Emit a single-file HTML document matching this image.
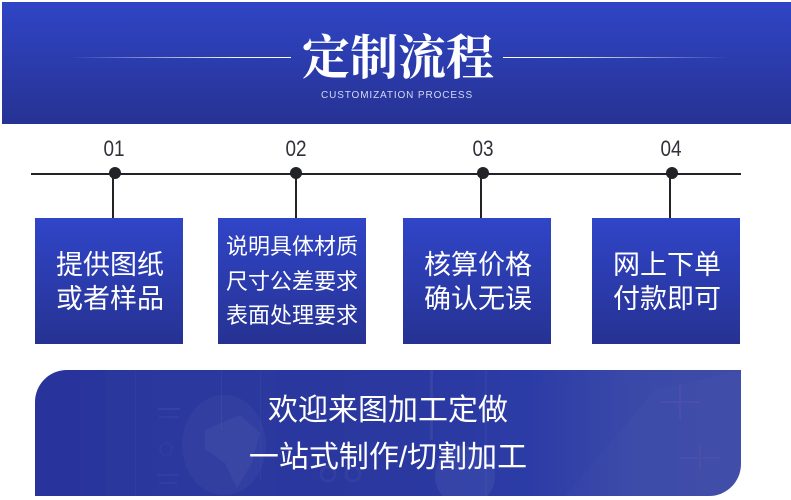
<!DOCTYPE html>
<html><head><meta charset="utf-8">
<style>
html,body{margin:0;padding:0;background:#fff}
#p{position:relative;width:791px;height:500px;overflow:hidden;background:#fff;font-family:"Liberation Sans","Noto Sans CJK SC",sans-serif}
#p div{position:absolute;box-sizing:border-box}
.hdr{left:2px;top:2px;width:789px;height:122px;background:linear-gradient(#3045c6,#263293)}
.ttl{left:290px;width:216px;top:24px;height:60px;text-align:center;font:700 48px/60px "Noto Serif CJK SC","Liberation Serif",serif;color:#fff;white-space:nowrap}
.sub{left:295px;width:204px;top:89px;height:14px;text-align:center;font-size:10px;line-height:14px;color:#d5d9f0;letter-spacing:.88px;white-space:nowrap}
.ln1{left:70px;top:57px;width:221px;height:1px;background:linear-gradient(90deg,rgba(255,255,255,0),rgba(255,255,255,.95) 75%,#fff)}
.ln2{left:503px;top:57px;width:227px;height:1px;background:linear-gradient(270deg,rgba(255,255,255,0),rgba(255,255,255,.95) 75%,#fff)}
.n{top:136px;height:26px;width:40px;text-align:center;font-size:22px;line-height:26px;color:#30313a;font-family:"Liberation Sans",sans-serif;transform:scaleX(.86)}
.h{left:31px;top:173px;width:710px;height:2px;background:#222326}
.d{width:12px;height:12px;border-radius:50%;background:#222326;top:167px}
.v{width:2px;top:174px;height:44px;background:#222326}
.b{top:218px;width:148px;height:126px;background:linear-gradient(#3045c8,#263292);color:#fff;text-align:center;white-space:nowrap}
.t{left:1px;width:148px;font-size:27px;line-height:34px;top:30px}
.s{left:0;width:148px;font-size:22px;line-height:34.5px;top:12px}
.ban{left:35px;top:370px;width:706px;height:126px;border-radius:32px 0 32px 0;overflow:hidden;background:linear-gradient(90deg,#28349b 0,#2a389f 50%,#2c3ca6 70%,#3a49a8 85%,#3e4ca8 100%)}
.bt{left:0;width:706px;text-align:center;color:#fff;white-space:nowrap;font-size:30px;line-height:40px}
</style></head><body><div id="p">
<div class="hdr"></div>
<div class="ln1"></div><div class="ln2"></div>
<div class="ttl">定制流程</div>
<div class="sub">CUSTOMIZATION PROCESS</div>

<div class="n" style="left:94px">01</div>
<div class="n" style="left:276px">02</div>
<div class="n" style="left:463px">03</div>
<div class="n" style="left:651px">04</div>
<div class="h"></div>
<div class="d" style="left:109px"></div><div class="v" style="left:112px"></div>
<div class="d" style="left:290px"></div><div class="v" style="left:295px"></div>
<div class="d" style="left:477px"></div><div class="v" style="left:480px"></div>
<div class="d" style="left:666px"></div><div class="v" style="left:669px"></div>

<div class="b" style="left:35px"><div class="t">提供图纸<br>或者样品</div></div>
<div class="b" style="left:218px"><div class="s">说明具体材质<br>尺寸公差要求<br>表面处理要求</div></div>
<div class="b" style="left:403px"><div class="t">核算价格<br>确认无误</div></div>
<div class="b" style="left:592px"><div class="t">网上下单<br>付款即可</div></div>

<div class="ban">
<svg width="706" height="126" style="position:absolute;left:0;top:0">
<g fill="#fff">
<rect x="70" y="0" width="170" height="126" opacity=".012"/>
<rect x="100" y="0" width="1" height="126" opacity=".03"/>
<rect x="186" y="0" width="1" height="60" opacity=".04"/>
<rect x="225" y="0" width="1" height="110" opacity=".03"/>
<rect x="395" y="0" width="3" height="70" opacity=".06"/>
<rect x="450" y="0" width="2" height="126" opacity=".03"/>
<ellipse cx="189" cy="75" rx="42" ry="50" opacity=".035"/>
<path d="M170 60l35-15 20 18-8 30-15 25-12-25-20-14z" opacity=".04"/>
<circle cx="131" cy="79" r="6" fill="none" stroke="#fff" opacity=".05"/>
<rect x="123" y="38" width="22" height="2" opacity=".05"/><rect x="124" y="46" width="20" height="2" opacity=".04"/>
<rect x="122" y="104" width="22" height="2" opacity=".04"/><rect x="124" y="112" width="18" height="2" opacity=".04"/>
<circle cx="293" cy="104" r="7" fill="none" stroke="#fff" stroke-width="3" opacity=".04"/>
<circle cx="318" cy="104" r="7" fill="none" stroke="#fff" stroke-width="3" opacity=".04"/>
<circle cx="430" cy="106" r="30" opacity=".05"/>
<path d="M530 126L620 20 706 0v126z" opacity=".015"/>
<path d="M645 15v35M625 32h40M665 75v25M645 88h40" stroke="#7a58b8" stroke-width="2" fill="none" opacity=".2"/>
</g>
</svg>
<div class="bt" style="top:21px">欢迎来图加工定做</div>
<div class="bt" style="top:68px">一站式制作/切割加工</div>
</div>
</div></body></html>
